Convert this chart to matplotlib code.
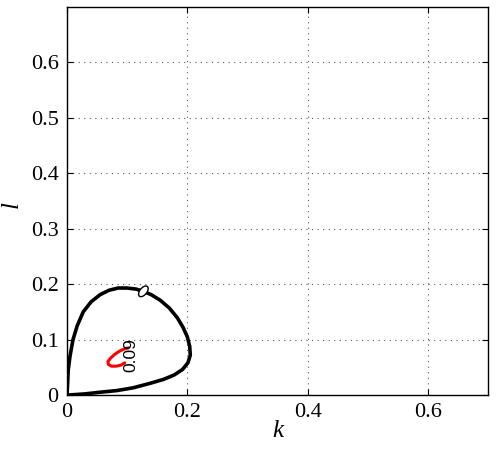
import matplotlib
matplotlib.use("Agg")
import matplotlib.pyplot as plt
from matplotlib.patches import Ellipse

# closed level curve (black)
loop_k = [0.0, 0.001, 0.002, 0.005, 0.010, 0.017, 0.027, 0.040, 0.055, 0.070,
          0.085, 0.100, 0.115, 0.127, 0.140, 0.155, 0.170, 0.183, 0.193, 0.200,
          0.204, 0.205, 0.201, 0.192, 0.178, 0.160, 0.138, 0.110, 0.083, 0.055,
          0.030, 0.010, 0.0]
loop_l = [0.0, 0.020, 0.045, 0.070, 0.100, 0.125, 0.150, 0.168, 0.181, 0.189,
          0.193, 0.193, 0.191, 0.187, 0.181, 0.171, 0.157, 0.140, 0.122, 0.105,
          0.088, 0.072, 0.058, 0.046, 0.036, 0.028, 0.021, 0.013, 0.008, 0.005,
          0.002, 0.0005, 0.0]

# small red contour 0.09
red_k = [0.102, 0.095, 0.087, 0.079, 0.072, 0.068, 0.069, 0.074, 0.082, 0.090, 0.096]
red_l = [0.085, 0.083, 0.079, 0.073, 0.066, 0.060, 0.055, 0.052, 0.052, 0.054, 0.058]
red_label = "0.09"
label_pos = (0.106, 0.072)

marker_pos = (0.127, 0.187)

xticks = [0, 0.2, 0.4, 0.6]
yticks = [0, 0.1, 0.2, 0.3, 0.4, 0.5, 0.6]

plt.rcParams["font.family"] = ["Liberation Serif", "DejaVu Serif"]

fig = plt.figure(figsize=(4.99, 4.49), dpi=100)
ax = fig.add_axes([67 / 499, 54 / 449, 421 / 499, 388 / 449])

ax.plot(loop_k, loop_l, color="black", lw=2.6, solid_joinstyle="round", zorder=3)
ax.plot(red_k, red_l, color="red", lw=2.2, solid_capstyle="round", zorder=3)
ax.text(label_pos[0], label_pos[1], red_label, rotation=90, ha="center", va="center",
        fontsize=12.5, family="Liberation Sans", zorder=4)
ax.add_patch(Ellipse(marker_pos, 0.022, 0.012, angle=55, facecolor="white",
                     edgecolor="black", lw=1.0, zorder=5))

ax.set_xlim(0, 0.7)
ax.set_ylim(0, 0.7)
ax.set_xticks(xticks)
ax.set_yticks(yticks)
ax.set_xticklabels([f"{v:g}" for v in xticks])
ax.set_yticklabels([f"{v:g}" for v in yticks])
ax.tick_params(direction="in", length=4, width=0.8, labelsize=16, pad=6,
               top=True, right=True)
ax.grid(True, color="0.35", linestyle=(0, (1, 4)), lw=0.8)
for sp in ax.spines.values():
    sp.set_linewidth(1.0)

fig.text(278 / 499, 1 - 431 / 449, "k", fontsize=18, fontstyle="italic",
         ha="center", va="center")
fig.text(12 / 499, 1 - 205 / 449, "l", fontsize=18, fontstyle="italic",
         rotation=90, ha="center", va="center")

fig.savefig("out.png", dpi=100)
